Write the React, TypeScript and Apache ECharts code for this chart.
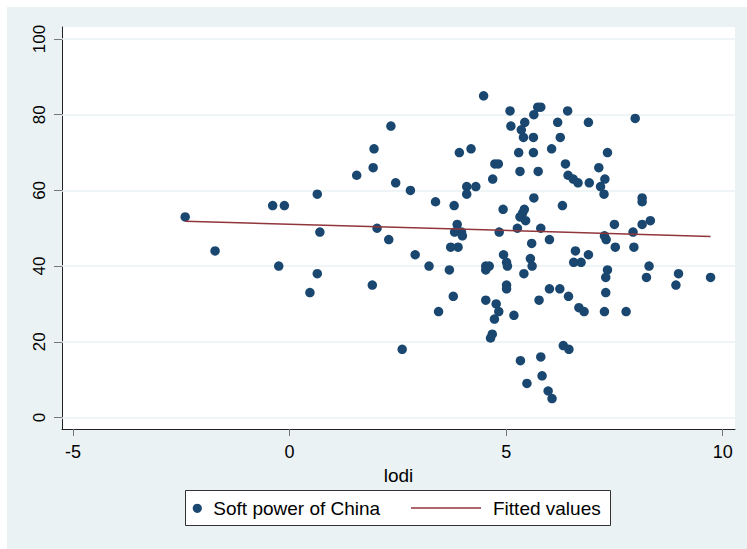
import React, { useEffect, useRef } from "react";
import * as echarts from "echarts";

// x values (lodi) and y values (Soft power of China)
const lodi = [
  -2.41, -1.72, -0.39, -0.12, -0.25, 0.64, 0.7, 0.64, 0.47, 1.55,
  1.93, 1.95, 2.34, 2.45, 2.02, 2.29, 1.91, 2.6, 2.79, 2.9,
  3.22, 3.37, 3.44, 3.8, 3.92, 4.19, 4.09, 4.3, 4.09, 3.87,
  3.81, 3.97, 3.99, 3.72, 3.89, 3.69, 3.78, 4.48, 5.09, 5.73,
  5.8, 5.64, 6.42, 5.43, 5.11, 5.35, 6.19, 6.9, 7.98, 5.4,
  5.63, 6.25, 5.29, 5.63, 6.05, 7.34, 4.74, 4.82, 6.37, 7.14,
  5.32, 5.74, 4.69, 6.43, 6.55, 6.66, 6.92, 7.28, 7.18, 7.26,
  4.93, 5.64, 6.3, 5.42, 5.38, 5.32, 5.45, 8.14, 8.14, 8.33,
  8.14, 7.5, 4.84, 5.26, 5.8, 6.0, 5.59, 4.94, 5.56, 5.6,
  5.41, 5.01, 5.03, 4.53, 4.61, 4.53, 6.6, 6.56, 6.73, 6.9,
  7.27, 7.31, 7.52, 7.93, 7.95, 8.3, 7.34, 7.3, 8.24, 8.98,
  9.72, 8.92, 5.01, 5.01, 4.53, 4.77, 4.83, 4.73, 4.68, 4.64,
  5.18, 5.76, 6.0, 6.24, 6.44, 6.68, 6.8, 7.27, 7.77, 7.3,
  6.32, 6.45, 5.33, 5.8, 5.48, 5.83, 5.97, 6.06,
];
const softPower = [
  53, 44, 56, 56, 40, 59, 49, 38, 33, 64,
  66, 71, 77, 62, 50, 47, 35, 18, 60, 43,
  40, 57, 28, 56, 70, 71, 61, 61, 59, 51,
  49, 49, 48, 45, 45, 39, 32, 85, 81, 82,
  82, 80, 81, 78, 77, 76, 78, 78, 79, 74,
  74, 74, 70, 70, 71, 70, 67, 67, 67, 66,
  65, 65, 63, 64, 63, 62, 62, 63, 61, 59,
  55, 58, 56, 55, 54, 53, 52, 58, 57, 52,
  51, 51, 49, 50, 50, 47, 46, 43, 42, 40,
  38, 41, 40, 40, 40, 39, 44, 41, 41, 43,
  48, 47, 45, 49, 45, 40, 39, 37, 37, 38,
  37, 35, 35, 34, 31, 30, 28, 26, 22, 21,
  27, 31, 34, 34, 32, 29, 28, 28, 28, 33,
  19, 18, 15, 16, 9, 11, 7, 5,
];

// fitted line end points
const fitX = [-2.41, 9.72];
const fitY = [51.85, 47.85];

const xTicks = [-5, 0, 5, 10];
const yTicks = [0, 20, 40, 60, 80, 100];
const seriesNames = ["Soft power of China", "Fitted values"];
const xTitle = "lodi";

const FONT = "'Liberation Sans', Arial, Helvetica, sans-serif";
const NAVY = "#1a476f";
const MAROON = "#90353b";
const BG = "#eaf2f3";

export default function App() {
  const ref = useRef<HTMLDivElement>(null);

  useEffect(() => {
    if (!ref.current) return;
    const chart = echarts.init(ref.current, null, { renderer: "svg" });

    const points = lodi.map((x, i) => [x, softPower[i]]);
    const fit = fitX.map((x, i) => [x, fitY[i]]);

    const legendY = 501;

    const option: any = {
      animation: false,
      backgroundColor: BG,
      textStyle: { fontFamily: FONT },
      grid: {
        left: 55,
        top: 20,
        width: 673,
        height: 402,
        show: true,
        backgroundColor: "#ffffff",
        borderWidth: 0,
        containLabel: false,
      },
      xAxis: {
        type: "value",
        min: -5.254,
        max: 10.284,
        name: xTitle,
        nameLocation: "middle",
        nameGap: 32,
        nameTextStyle: { fontSize: 19, color: "#000", fontFamily: FONT },
        axisLine: { show: true, onZero: false, lineStyle: { color: "#222", width: 1 } },
        axisTick: { show: true, customValues: xTicks, length: 7, lineStyle: { color: "#777", width: 1 } },
        axisLabel: { customValues: xTicks, fontSize: 18, color: "#000", margin: 14, fontFamily: FONT },
        splitLine: { show: false },
      },
      yAxis: {
        type: "value",
        min: -3.04,
        max: 103.17,
        axisLine: { show: true, onZero: false, lineStyle: { color: "#222", width: 1 } },
        axisTick: { show: true, customValues: yTicks, length: 8, lineStyle: { color: "#777", width: 1 } },
        axisLabel: { customValues: yTicks, fontSize: 17, color: "#000", margin: 14, rotate: 90, fontFamily: FONT },
        splitLine: { show: false },
      },
      graphic: [
        {
          type: "rect",
          shape: { x: 178.5, y: 483.5, width: 425, height: 35 },
          style: { fill: "#ffffff", stroke: "#333", lineWidth: 1 },
          silent: true,
        },
        {
          type: "circle",
          shape: { cx: 190.3, cy: legendY + 0.3, r: 4.6 },
          style: { fill: NAVY },
          silent: true,
        },
        {
          type: "text",
          x: 206.3,
          y: legendY,
          style: {
            text: seriesNames[0],
            fill: "#000",
            font: `19px ${FONT}`,
            verticalAlign: "middle",
            align: "left",
          },
          silent: true,
        },
        {
          type: "line",
          shape: { x1: 404, y1: legendY, x2: 474, y2: legendY },
          style: { stroke: MAROON, lineWidth: 1.5 },
          silent: true,
        },
        {
          type: "text",
          x: 486,
          y: legendY,
          style: {
            text: seriesNames[1],
            fill: "#000",
            font: `19px ${FONT}`,
            verticalAlign: "middle",
            align: "left",
          },
          silent: true,
        },
      ],
      series: [
        {
          type: "line",
          name: "grid",
          data: [],
          z: 1,
          silent: true,
          markLine: {
            z: 1,
            silent: true,
            symbol: ["none", "none"],
            label: { show: false },
            lineStyle: { color: BG, width: 1.5, type: "solid" },
            data: yTicks.map((v) => ({ yAxis: v })),
          },
        },
        {
          type: "scatter",
          name: seriesNames[0],
          data: points,
          symbol: "circle",
          symbolSize: 9.5,
          itemStyle: { color: NAVY, opacity: 1 },
          z: 3,
        },
        {
          type: "line",
          name: seriesNames[1],
          data: fit,
          symbol: "none",
          showSymbol: false,
          lineStyle: { color: MAROON, width: 1.5 },
          z: 4,
        },
      ],
    };

    chart.setOption(option);
    return () => chart.dispose();
  }, []);

  return (
    <div style={{ position: "fixed", left: 0, top: 0, width: 747, height: 549, background: "#ffffff" }}>
      <div ref={ref} style={{ position: "absolute", left: 7, top: 7, width: 740, height: 542 }} />
    </div>
  );
}
